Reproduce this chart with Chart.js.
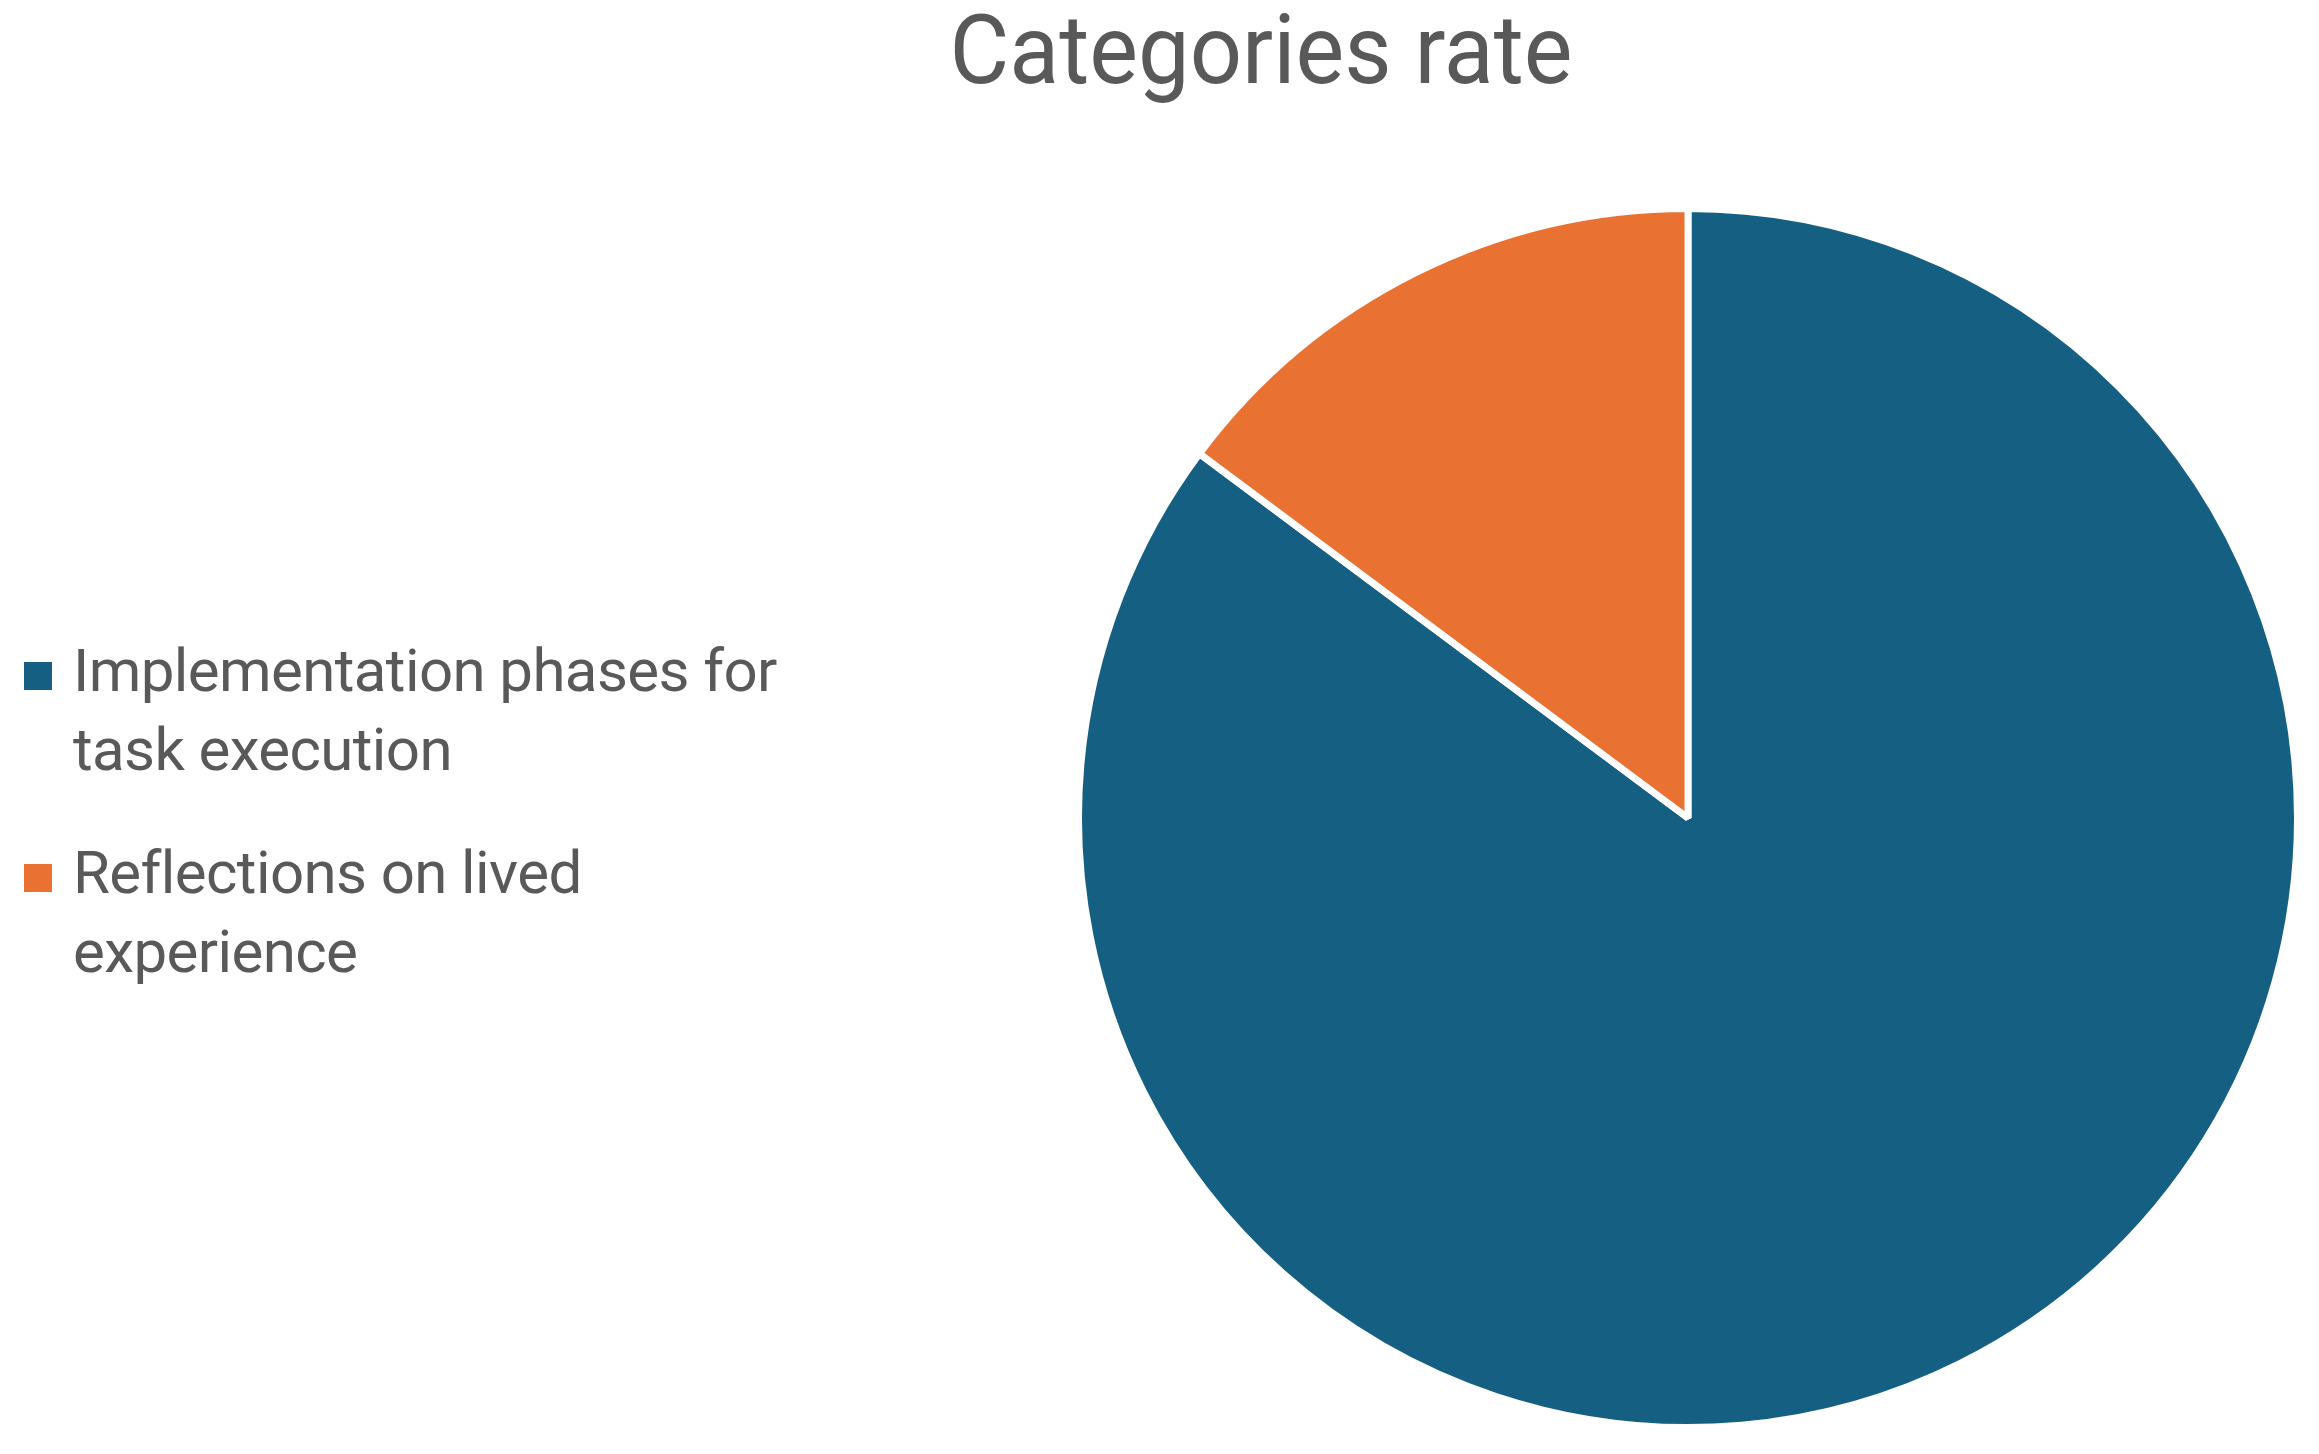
<!DOCTYPE html>
<html>
<head>
<meta charset="utf-8">
<title>Categories rate</title>
<script src="https://cdn.jsdelivr.net/npm/chart.js@4/dist/chart.umd.min.js"></script>
<style>
  html, body { margin: 0; padding: 0; background: #fff; }
  body { width: 2319px; height: 1454px; position: relative; overflow: hidden;
         font-family: Roboto, 'Noto Sans', sans-serif; color: #595959; }
  #title { position: absolute; left: 0; width: 2522px; top: 2px; text-align: center;
           font-size: 96px; line-height: 1; white-space: nowrap;
           transform: scaleX(0.957); transform-origin: 1261px 0; }
  #legend { position: absolute; left: 0; top: 631px; }
  .item { position: relative; margin-bottom: 44px; }
  .swatch { position: absolute; left: 24px; top: 31px; width: 28px; height: 28px; }
  .label { margin-left: 73px; width: 720px; font-size: 60px; line-height: 79px; letter-spacing: -0.6px; }
  #pie-wrap { position: absolute; left: 1075px; top: 205px; width: 1226px; height: 1226px; }
</style>
</head>
<body>
<div id="title">Categories rate</div>
<div id="legend"></div>
<div id="pie-wrap"><canvas id="chart-pie"></canvas></div>
<script>
// values (share of responses, %)
const categories = ['Implementation phases for task execution', 'Reflections on lived experience'];
const shares = [85.2, 14.8];
const colours = ['#156082', '#E97132'];

(function () {
  const legend = document.getElementById('legend');
  categories.forEach((c, i) => {
    const item = document.createElement('div');
    item.className = 'item';
    const sw = document.createElement('div');
    sw.className = 'swatch';
    sw.style.background = colours[i];
    const lb = document.createElement('div');
    lb.className = 'label';
    lb.textContent = c;
    item.appendChild(sw);
    item.appendChild(lb);
    legend.appendChild(item);
  });

  new Chart(document.getElementById('chart-pie'), {
    type: 'pie',
    data: {
      labels: categories,
      datasets: [{
        data: shares,
        backgroundColor: colours,
        borderColor: '#ffffff',
        borderWidth: 7,
      }],
    },
    options: {
      responsive: true,
      maintainAspectRatio: false,
      animation: false,
      layout: { padding: 0 },
      plugins: {
        legend: { display: false },
        title: { display: false },
        tooltip: { enabled: false },
      },
    },
  });
})();
</script>
</body>
</html>
